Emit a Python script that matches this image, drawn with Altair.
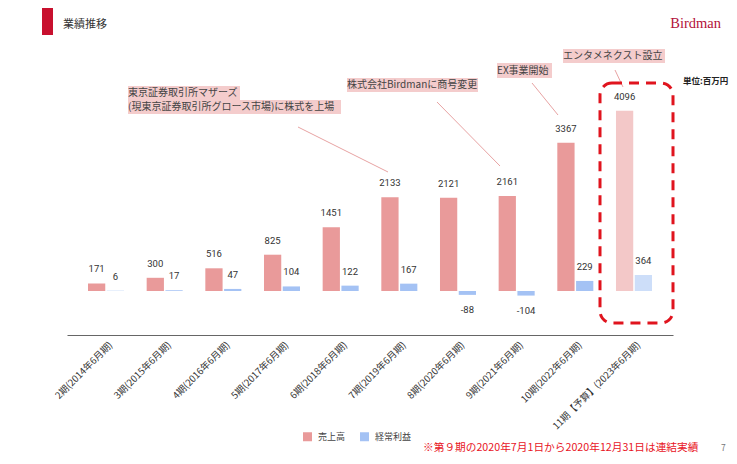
import altair as alt
import pandas as pd

periods = ["2期(2014年6月期)", "3期(2015年6月期)", "4期(2016年6月期)", "5期(2017年6月期)",
           "6期(2018年6月期)", "7期(2019年6月期)", "8期(2020年6月期)", "9期(2021年6月期)",
           "10期(2022年6月期)", "11期【予算】(2023年6月期)"]
sales = [171, 300, 516, 825, 1451, 2133, 2121, 2161, 3367, 4096]
profit = [6, 17, 47, 104, 122, 167, -88, -104, 229, 364]
forecast = [0, 0, 0, 0, 0, 0, 0, 0, 0, 1]
series_names = ["売上高", "経常利益"]
series_colors = ["#E99A9A", "#A4C2F4"]

rows = []
for p, s, pr, f in zip(periods, sales, profit, forecast):
    rows.append({"period": p, "series": series_names[0], "value": s, "forecast": f})
    rows.append({"period": p, "series": series_names[1], "value": pr, "forecast": f})
df = pd.DataFrame(rows)
one = pd.DataFrame({"k": [0]})

JP = "Noto Sans CJK JP"

x_enc = alt.X("period:N", sort=periods,
              scale=alt.Scale(paddingInner=0.386, paddingOuter=0.358),
              axis=alt.Axis(title=None, labelAngle=-45, labelAlign="right", labelBaseline="middle",
                            labelFontSize=9.5, labelFont=JP, labelColor="#333", ticks=False,
                            domainColor="#666", domainWidth=1.2, labelPadding=8, labelOffset=5,
                            labelLimit=300, grid=False))
y_enc = alt.Y("value:Q", scale=alt.Scale(domain=[-1000, 5000], nice=False, zero=True), axis=None)
xoff = alt.XOffset("series:N", sort=series_names, scale=alt.Scale(paddingInner=0.08))

bars = alt.Chart(df).mark_bar().encode(
    x=x_enc, xOffset=xoff, y=y_enc,
    color=alt.Color("series:N", sort=series_names,
                    scale=alt.Scale(domain=series_names, range=series_colors),
                    legend=alt.Legend(title=None, orient="none", legendX=236, legendY=361,
                                      direction="horizontal", symbolType="square", symbolSize=81,
                                      symbolStrokeWidth=0, labelFontSize=9, labelFont=JP,
                                      labelColor="#444", columnPadding=14, labelOffset=6)),
    opacity=alt.when(alt.datum.forecast == 1).then(alt.value(0.55)).otherwise(alt.value(1.0)),
)

lab_base = alt.Chart(df).transform_calculate(label="'' + datum.value")
pos_labels = lab_base.transform_filter("datum.value >= 0").mark_text(
    dy=-14, fontSize=9.5, font="Roboto", color="#333").encode(
    x=x_enc, xOffset=xoff, y=y_enc, text="label:N")
neg_labels = lab_base.transform_filter("datum.value < 0").mark_text(
    dy=15, fontSize=9.5, font="Roboto", color="#333").encode(
    x=x_enc, xOffset=xoff, y=y_enc, text="label:N")


def px_text(txt, x, y, **kw):
    return alt.Chart(one).mark_text(**kw).encode(x=alt.value(x), y=alt.value(y), text=alt.value(txt))


def px_rect(x, x2, y, y2, **kw):
    return alt.Chart(one).mark_rect(**kw).encode(x=alt.value(x), x2=alt.value(x2),
                                                 y=alt.value(y), y2=alt.value(y2))


def px_rule(x, y, x2, y2, **kw):
    return alt.Chart(one).mark_rule(**kw).encode(x=alt.value(x), x2=alt.value(x2),
                                                 y=alt.value(y), y2=alt.value(y2))


HL = "#F4CCCC"
LEAD = "#E8A3A3"
ANN = "#444444"
ann_kw = dict(fontSize=10, font=JP, color=ANN, align="left", baseline="middle")

deco = [
    # header
    px_rect(-25, -14, -63, -36, color="#C8102E"),
    px_text("業績推移", -4, -46, fontSize=11, font=JP, color="#333", align="left", baseline="middle"),
    px_text("Birdman", 654, -47, fontSize=14.5, font="Liberation Serif", color="#B3123A",
            align="right", baseline="middle"),
    px_text("単位:百万円", 616, 10, fontSize=8.5, font=JP, fontWeight="bold", color="#222",
            align="left", baseline="middle"),
    # annotation 1
    px_rect(61, 173, 15, 29, color=HL),
    px_rect(61, 274, 29, 43, color=HL),
    px_text("東京証券取引所マザーズ", 61, 22, **ann_kw),
    px_text("(現東京証券取引所グロース市場)に株式を上場", 61, 36, **ann_kw),
    px_rule(231, 56, 321, 101, color=LEAD, strokeWidth=1),
    # annotation 2
    px_rect(280, 411, 7, 21, color=HL),
    px_text("株式会社Birdmanに商号変更", 280, 14, **ann_kw),
    px_rule(370, 31, 433, 95, color=LEAD, strokeWidth=1),
    # annotation 3
    px_rect(430, 485, -8, 7, color=HL),
    px_text("EX事業開始", 430, -0.5, **ann_kw),
    px_rule(465, 12, 491, 44, color=LEAD, strokeWidth=1),
    # annotation 4
    px_rect(496, 598, -22, -8, color=HL),
    px_text("エンタメネクスト設立", 496, -15, **ann_kw),
    px_rule(548, -1, 556, 16, color=LEAD, strokeWidth=1),
    # dashed highlight box
    px_rect(533, 606, 12, 252, fillOpacity=0, stroke="#E0141E", strokeWidth=3,
            strokeDash=[10, 7], cornerRadius=12),
    # footnote
    px_text("※第９期の2020年7月1日から2020年12月31日は連結実績", 356, 377, fontSize=10.7, font=JP,
            color="#E8141E", align="left", baseline="middle"),
    px_text("7", 654, 377, fontSize=8.5, font=JP, color="#777", align="left", baseline="middle"),
]

chart = alt.layer(bars, pos_labels, neg_labels, *deco).properties(
    width=606, height=264,
    padding={"left": 59, "top": 63, "right": 56, "bottom": 121},
    autosize=alt.AutoSizeParams(type="none"),
    background="white",
).configure_view(stroke=None)

chart.save("out.html", embed_options={"renderer": "svg", "actions": False})
